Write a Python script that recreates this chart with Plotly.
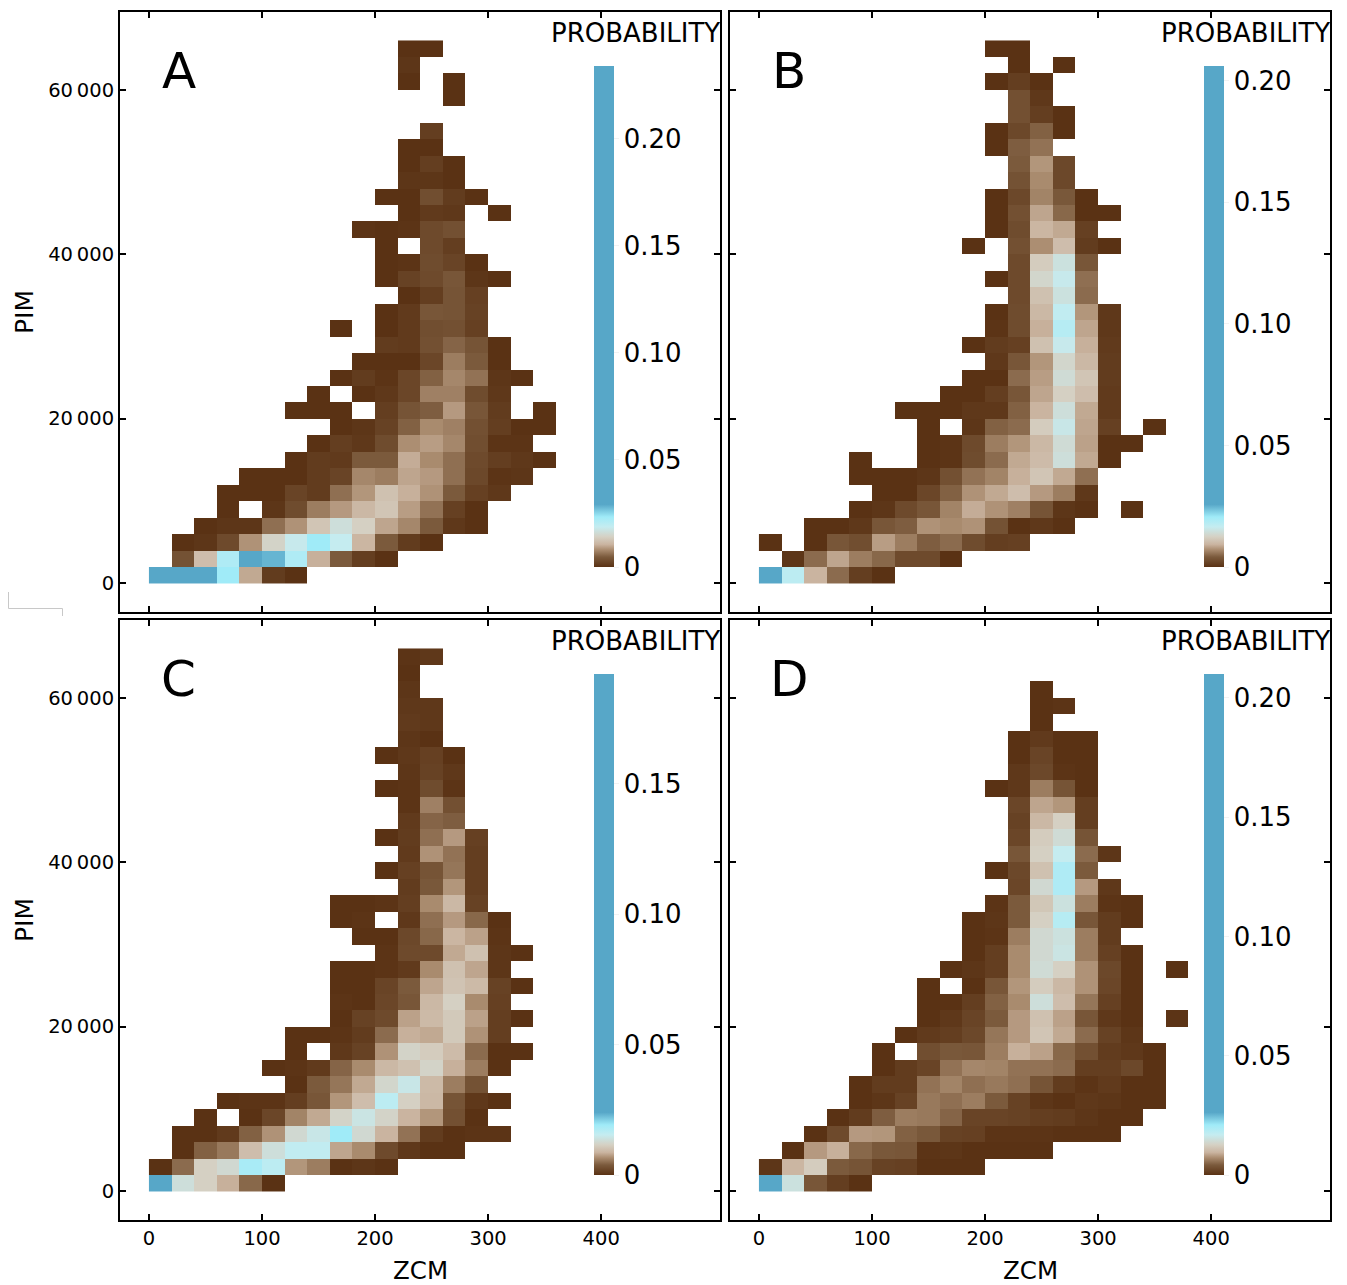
import numpy as np
import plotly.graph_objects as go

# Cell size of the 2-D histogram
ZCM_BIN = 20
PIM_BIN = 2000
N_COLS = 20
N_ROWS = 33

# Top of each colour bar (probability)
TOP_A = 0.234
TOP_B = 0.206
TOP_C = 0.192
TOP_D = 0.21

# Readings: row -> (first column, values in thousandths of the colour-bar top; None = empty)
CELLS_A = {
    32: (11, [0, 0]), 31: (11, [2]), 30: (11, [0, None, 0]), 29: (13, [0]),
    27: (12, [6]), 26: (11, [0, 0]), 25: (11, [0, 6, 0]), 24: (11, [2, 2, 0]),
    23: (10, [0, 0, 14, 5, 0]), 22: (11, [0, 4, 3, None, 0]),
    21: (9, [1, 0, 1, 12, 15]), 20: (10, [0, None, 12, 6]),
    19: (10, [0, 1, 13, 9, 0]), 18: (10, [0, 8, 12, 18, 2, 0]),
    17: (11, [0, 6, 17, 7]), 16: (10, [0, 4, 18, 17, 8]),
    15: (8, [0, None, 0, 4, 14, 15, 7]), 14: (10, [5, 4, 15, 23, 17, 0]),
    13: (9, [0, 0, 0, 10, 30, 20, 0]), 12: (8, [0, 5, 1, 10, 22, 33, 27, 2, 0]),
    11: (7, [0, None, 0, 3, 10, 31, 31, 13, 3]),
    10: (6, [0, 0, 0, None, 6, 17, 21, 38, 18, 5, None, 0]),
    9: (8, [0, 2, 8, 22, 34, 31, 15, 6, 0, 0]),
    8: (7, [0, 6, 3, 13, 35, 39, 33, 14, 1, 1]),
    7: (6, [0, 5, 4, 20, 20, 43, 34, 26, 12, 6, 3, 0]),
    6: (4, [0, 0, 0, 5, 9, 33, 30, 41, 38, 26, 11, 1, 2]),
    5: (3, [0, 0, 0, 9, 5, 26, 37, 52, 44, 36, 20, 7, 3]),
    4: (3, [0, None, 2, 13, 30, 38, 47, 54, 39, 27, 7, 0]),
    3: (2, [0, 2, 2, 26, 36, 54, 70, 60, 41, 33, 20, 3, 0]),
    2: (1, [0, 2, 12, 36, 62, 78, 100, 80, 46, 20, 5, 0]),
    1: (1, [16, 50, 92, 125, 120, 92, 44, 20, 6, 0]),
    0: (0, [1000, 300, 200, 100, 42, 5, 0]),
}
CELLS_B = {
    32: (10, [0, 0]), 31: (11, [0, None, 0]), 30: (10, [0, 6, 0]), 29: (11, [15, 3]),
    28: (11, [15, 6, 0]), 27: (10, [0, 11, 22, 0]), 26: (10, [0, 21, 27]),
    25: (11, [20, 37, 11]), 24: (11, [16, 34, 11]), 23: (10, [0, 11, 32, 19, 0]),
    22: (10, [0, 15, 41, 24, 0, 0]), 21: (10, [0, 13, 46, 42, 7]),
    20: (9, [0, None, 15, 35, 50, 5, 0]), 19: (11, [12, 58, 72, 18]),
    18: (10, [0, 12, 64, 78, 26]), 17: (11, [12, 52, 72, 25]),
    16: (10, [0, 13, 47, 82, 37, 3]), 15: (10, [1, 13, 44, 88, 41, 3]),
    14: (9, [0, 5, 7, 52, 78, 44, 4]), 13: (10, [3, 18, 37, 64, 47, 5]),
    12: (9, [0, 0, 25, 39, 68, 54, 5]), 11: (8, [0, 0, 6, 18, 41, 60, 50, 4]),
    10: (6, [0, 0, 0, 3, 3, 22, 45, 70, 42, 4]),
    9: (7, [0, None, 2, 22, 25, 58, 76, 41, 7, None, 0]),
    8: (7, [0, 1, 12, 30, 37, 47, 68, 40, 0, 0]),
    7: (4, [0, None, None, 0, 1, 13, 25, 42, 49, 70, 42, 0]),
    6: (4, [0, 0, 0, 2, 15, 27, 32, 44, 54, 42, 26]),
    5: (5, [0, 0, 10, 22, 36, 42, 50, 38, 30, 3]),
    4: (4, [0, 2, 12, 18, 32, 43, 36, 31, 17, 2, 0, None, 0]),
    3: (2, [0, 0, 3, 18, 21, 36, 34, 36, 16, 0, 3, 0]),
    2: (0, [0, None, 0, 18, 14, 39, 30, 21, 25, 13, 6, 7]),
    1: (1, [2, 25, 41, 30, 24, 12, 12, 0]),
    0: (0, [1000, 85, 45, 25, 6, 0]),
}
CELLS_C = {
    32: (11, [1, 3]), 31: (11, [0]), 30: (11, [2]), 29: (11, [3, 3]), 28: (11, [4, 3]),
    27: (11, [2, 0]), 26: (10, [0, 3, 7, 0]), 25: (11, [2, 8, 3]),
    24: (10, [0, 1, 13, 1]), 23: (11, [1, 31, 15]), 22: (11, [4, 23, 21]),
    21: (10, [0, 5, 26, 38, 7]), 20: (11, [4, 36, 27, 6]),
    19: (10, [0, 7, 17, 28, 6]), 18: (11, [5, 19, 37, 6]),
    17: (8, [0, 0, 1, 6, 34, 47, 8]), 16: (8, [0, 1, None, 3, 26, 38, 24, 0]),
    15: (9, [0, 0, 11, 24, 46, 40, 1]), 14: (10, [1, 12, 12, 42, 52, 2, 0]),
    13: (8, [0, 0, 1, 4, 34, 52, 41, 2]), 12: (8, [0, 0, 9, 20, 41, 53, 48, 8, 0]),
    11: (8, [1, 0, 10, 18, 47, 60, 34, 7]), 10: (8, [0, 8, 12, 40, 48, 56, 40, 6, 0]),
    9: (6, [0, 0, 1, 5, 25, 44, 42, 56, 36, 6]),
    8: (6, [0, None, 3, 8, 36, 62, 58, 49, 25, 0, 0]),
    7: (5, [0, 1, 4, 23, 34, 47, 52, 62, 44, 30, 0]),
    6: (6, [0, 20, 28, 42, 64, 76, 48, 30, 16]),
    5: (3, [0, 1, 1, 6, 18, 37, 50, 85, 60, 47, 17, 3, 0]),
    4: (2, [0, None, 0, 10, 32, 42, 62, 74, 62, 45, 37, 15, 0]),
    3: (1, [0, 0, 4, 22, 36, 66, 76, 100, 66, 45, 27, 5, 0, 1, 1]),
    2: (1, [0, 22, 29, 50, 70, 82, 82, 41, 34, 12, 3, 0, 0]),
    1: (0, [0, 25, 60, 66, 95, 85, 37, 30, 0, 2, 0]),
    0: (0, [1000, 70, 60, 44, 24, 0]),
}
CELLS_D = {
    30: (12, [0]), 29: (12, [0, 1]), 28: (12, [0]), 27: (11, [0, 4, 0, 0]),
    26: (11, [0, 9, 0, 0]), 25: (11, [3, 11, 1, 0]), 24: (10, [0, 3, 30, 17, 0]),
    23: (11, [10, 41, 37, 6]), 22: (11, [8, 47, 60, 6]), 21: (11, [10, 58, 68, 17]),
    20: (11, [18, 60, 80, 25, 2]), 19: (10, [0, 11, 52, 92, 20]),
    18: (11, [10, 66, 92, 38, 3]), 17: (10, [1, 20, 55, 72, 30, 1, 0]),
    16: (9, [0, 2, 20, 60, 88, 18, 5, 0]), 15: (9, [0, 1, 30, 66, 72, 30, 5]),
    14: (9, [0, 6, 34, 66, 74, 30, 7, 0]),
    13: (8, [0, 2, 6, 34, 68, 60, 36, 11, 0, None, 0]),
    12: (7, [0, None, 0, 18, 37, 58, 47, 36, 10, 0]),
    11: (7, [0, 0, 6, 22, 34, 70, 50, 28, 7, 0]),
    10: (7, [0, 3, 9, 20, 38, 52, 40, 18, 3, 0, None, 1]),
    9: (6, [0, 4, 6, 11, 28, 38, 54, 42, 25, 8, 2]),
    8: (5, [0, None, 14, 19, 18, 30, 44, 40, 24, 15, 5, 3, 0]),
    7: (5, [0, 5, 9, 27, 33, 32, 27, 27, 25, 6, 6, 11, 0]),
    6: (4, [0, 5, 5, 27, 32, 26, 29, 26, 17, 5, 1, 4, 0, 0]),
    5: (4, [0, 2, 8, 29, 26, 30, 20, 8, 2, 0, 3, 2, 0, 0]),
    4: (3, [0, 5, 21, 30, 29, 23, 9, 9, 8, 6, 5, 2, 0, 0]),
    3: (2, [0, 12, 38, 37, 22, 19, 8, 7, 1, 1, 1, 0, 0, 0]),
    2: (1, [0, 38, 44, 24, 19, 18, 1, 2, 0, 0, 0, 0]),
    1: (0, [2, 46, 58, 20, 17, 8, 7, 0, 0, 0]),
    0: (0, [1000, 72, 18, 6, 0]),
}

PANEL_LABELS = ["A", "B", "C", "D"]
X_TICKS = [0, 100, 200, 300, 400]
Y_TICKS = [0, 20000, 40000, 60000]
Y_TICK_TEXT = ["0", "20\u2009000", "40\u2009000", "60\u2009000"]
BAR_TICKS_A = [0, 0.05, 0.10, 0.15, 0.20]
BAR_TICKS_B = [0, 0.05, 0.10, 0.15, 0.20]
BAR_TICKS_C = [0, 0.05, 0.10, 0.15]
BAR_TICKS_D = [0, 0.05, 0.10, 0.15, 0.20]

COLORS = [
    [0.0, "#5a3214"], [0.02, "#7b5a3c"], [0.035, "#ac8e72"], [0.045, "#cab4a0"],
    [0.06, "#d5d0c3"], [0.08, "#c5ecf0"], [0.10, "#a0ebf8"], [0.125, "#57a7c8"],
    [1.0, "#57a7c8"],
]

W, H = 1347, 1285
FONT = "DejaVu Sans"
BOXES = [(120, 720, 12, 612), (730, 1330, 12, 612), (120, 720, 620, 1220), (730, 1330, 620, 1220)]
X_RANGE = [-25.6, 505.1]
Y_RANGE = [-3528, 69465]


def grid(cells, top):
    z = np.full((N_ROWS, N_COLS), np.nan)
    for row, (first, values) in cells.items():
        for k, v in enumerate(values):
            if v is not None:
                z[row, first + k] = v / 1000 * top
    return z


def px(x):
    return x / W


def py(y):
    return 1 - y / H


fig = go.Figure()
x_centers = [ZCM_BIN * (i + 0.5) for i in range(N_COLS)]
y_centers = [PIM_BIN * (j + 0.5) for j in range(N_ROWS)]
panels = [
    (CELLS_A, TOP_A, BAR_TICKS_A), (CELLS_B, TOP_B, BAR_TICKS_B),
    (CELLS_C, TOP_C, BAR_TICKS_C), (CELLS_D, TOP_D, BAR_TICKS_D),
]
layout = {}
annotations = []
for n, ((cells, top, bar_ticks), box, label) in enumerate(zip(panels, BOXES, PANEL_LABELS)):
    l, r, t, b = box
    s = "" if n == 0 else str(n + 1)
    fig.add_trace(go.Heatmap(
        x=x_centers, y=y_centers, z=grid(cells, top),
        xaxis="x" + s, yaxis="y" + s, zmin=0, zmax=top, colorscale=COLORS,
        hoverongaps=False,
        colorbar=dict(
            x=px(l + 474), xanchor="left", xpad=0, ypad=0, thickness=20, thicknessmode="pixels",
            y=py(t + 555), yanchor="bottom", len=501 / H, lenmode="fraction",
            outlinewidth=0, borderwidth=0,
            tickmode="array", tickvals=bar_ticks,
            ticktext=[("0" if v == 0 else f"{v:.2f}") for v in bar_ticks],
            ticks="outside", ticklen=5, tickcolor="#f2f2f2", tickwidth=1,
            tickfont=dict(family=FONT, size=26, color="black"),
        ),
    ))
    axis_common = dict(showgrid=False, zeroline=False, showline=True, linecolor="black", linewidth=2,
                       mirror="allticks", ticks="inside", ticklen=6, tickwidth=1.5, tickcolor="black",
                       tickfont=dict(family=FONT, size=19.5, color="black"))
    layout["xaxis" + s] = dict(axis_common, domain=[px(l), px(r)], range=X_RANGE, anchor="y" + s,
                               tickmode="array", tickvals=X_TICKS, showticklabels=n >= 2)
    layout["yaxis" + s] = dict(axis_common, domain=[py(b), py(t)], range=Y_RANGE, anchor="x" + s,
                               tickmode="array", tickvals=Y_TICKS, ticktext=Y_TICK_TEXT,
                               showticklabels=n % 2 == 0)
    annotations.append(dict(text="PROBABILITY", x=px(l + 515), y=py(t + 20.5), xref="paper", yref="paper",
                            xanchor="center", yanchor="middle", showarrow=False,
                            font=dict(family=FONT, size=26, color="black")))
    annotations.append(dict(text=label, x=px(l + 59), y=py(t + 59), xref="paper", yref="paper",
                            xanchor="center", yanchor="middle", showarrow=False,
                            font=dict(family=FONT, size=50, color="black")))
    if n >= 2:
        annotations.append(dict(text="ZCM", x=px(l + 300), y=py(1270.5), xref="paper", yref="paper",
                                xanchor="center", yanchor="middle", showarrow=False,
                                font=dict(family=FONT, size=24.5, color="black"), borderpad=0))
    if n % 2 == 0:
        annotations.append(dict(text="PIM", x=px(24), y=py(t + 300), xref="paper", yref="paper", textangle=-90,
                                xanchor="center", yanchor="middle", showarrow=False,
                                font=dict(family=FONT, size=25, color="black")))

stray = dict(type="path", xref="paper", yref="paper",
             path=f"M {px(8.5)} {py(592)} L {px(8.5)} {py(608.5)} L {px(62.5)} {py(608.5)} L {px(62.5)} {py(616)}",
             line=dict(color="#c8c8c8", width=1))

fig.update_layout(width=W, height=H, autosize=False, margin=dict(l=0, r=0, t=0, b=0),
                  paper_bgcolor="white", plot_bgcolor="white", showlegend=False,
                  annotations=annotations, shapes=[stray], **layout)
fig.write_html("out.html", config={"displayModeBar": False},
               post_script="document.body.style.margin='0';window.dispatchEvent(new Event('resize'));")
